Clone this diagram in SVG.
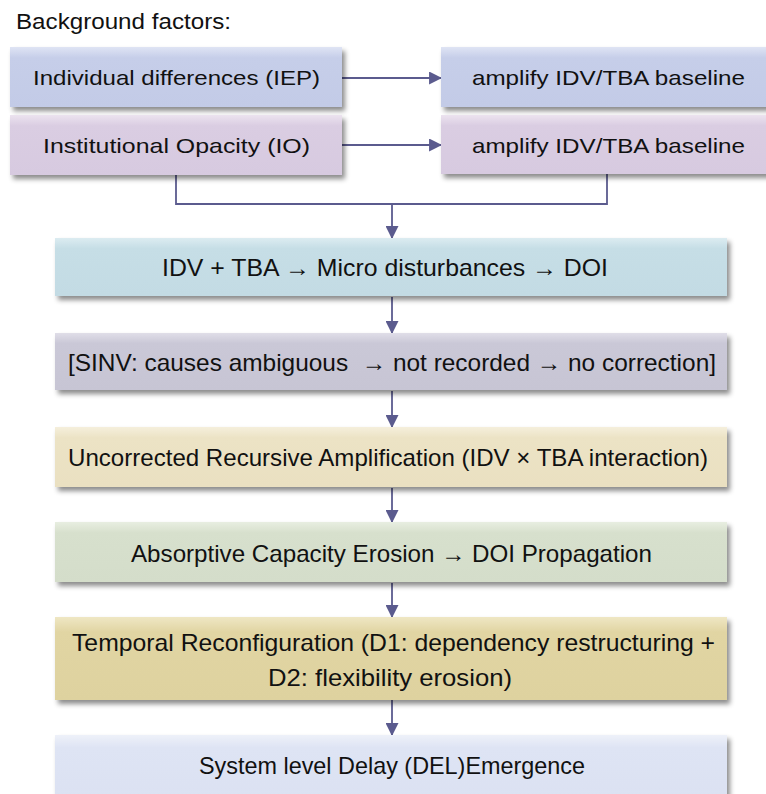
<svg xmlns="http://www.w3.org/2000/svg" width="766" height="794" viewBox="0 0 766 794">
<style>
  text { font-family: "Liberation Sans", Arial, sans-serif; font-size: 24px; fill: #111; }
  .sm { font-size: 21px; }
  .ttl { font-size: 22px; }
  .box { filter: url(#sh); }
  .conn { stroke: #5b5b8e; stroke-width: 1.8; fill: none; }
  .arr { marker-end: url(#ah); }
</style>
<defs>
  <filter id="sh" x="-5%" y="-20%" width="112%" height="150%">
    <feDropShadow dx="3" dy="4" stdDeviation="2.5" flood-color="#000" flood-opacity="0.45"/>
  </filter>
  <marker id="ah" viewBox="0 0 12 12" refX="11" refY="6" markerWidth="13" markerHeight="13" markerUnits="userSpaceOnUse" orient="auto">
    <path d="M0,0 L12,6 L0,12 z" fill="#5b5b8e"/>
  </marker>
  <linearGradient id="gBlue" x1="0" y1="0" x2="0" y2="1"><stop offset="0" stop-color="#dfe4f4"/><stop offset="0.18" stop-color="#c6cee9"/><stop offset="1" stop-color="#c3cbe7"/></linearGradient>
  <linearGradient id="gMauve" x1="0" y1="0" x2="0" y2="1"><stop offset="0" stop-color="#ece3ef"/><stop offset="0.18" stop-color="#dacde2"/><stop offset="1" stop-color="#d7cae0"/></linearGradient>
  <linearGradient id="gTeal" x1="0" y1="0" x2="0" y2="1"><stop offset="0" stop-color="#dcecf1"/><stop offset="0.18" stop-color="#c6dee6"/><stop offset="1" stop-color="#c3dbe4"/></linearGradient>
  <linearGradient id="gGray" x1="0" y1="0" x2="0" y2="1"><stop offset="0" stop-color="#e0dee8"/><stop offset="0.18" stop-color="#cac8d7"/><stop offset="1" stop-color="#c7c5d4"/></linearGradient>
  <linearGradient id="gBeige" x1="0" y1="0" x2="0" y2="1"><stop offset="0" stop-color="#f5efdc"/><stop offset="0.18" stop-color="#ece3c5"/><stop offset="1" stop-color="#eae0c1"/></linearGradient>
  <linearGradient id="gSage" x1="0" y1="0" x2="0" y2="1"><stop offset="0" stop-color="#e8eee1"/><stop offset="0.18" stop-color="#d7e0cd"/><stop offset="1" stop-color="#d4ddca"/></linearGradient>
  <linearGradient id="gKhaki" x1="0" y1="0" x2="0" y2="1"><stop offset="0" stop-color="#efe7c4"/><stop offset="0.18" stop-color="#e1d5a3"/><stop offset="1" stop-color="#ded29f"/></linearGradient>
  <linearGradient id="gLight" x1="0" y1="0" x2="0" y2="1"><stop offset="0" stop-color="#eef1f9"/><stop offset="0.18" stop-color="#dee4f4"/><stop offset="1" stop-color="#dbe1f2"/></linearGradient>
</defs>
<rect width="766" height="794" fill="#ffffff"/>

<text id="title" class="ttl" x="16" y="29" textLength="215" lengthAdjust="spacingAndGlyphs">Background factors:</text>

<g id="connectors">
  <line class="conn arr" x1="342" y1="78" x2="441" y2="78"/>
  <line class="conn arr" x1="342" y1="145" x2="441" y2="145"/>
  <polyline class="conn" points="176,175 176,204 607,204 607,174"/>
  <line class="conn arr" x1="392" y1="204" x2="392" y2="238"/>
  <line class="conn arr" x1="392" y1="297" x2="392" y2="333"/>
  <line class="conn arr" x1="392" y1="391" x2="392" y2="427"/>
  <line class="conn arr" x1="392" y1="488" x2="392" y2="522"/>
  <line class="conn arr" x1="392" y1="583" x2="392" y2="617"/>
  <line class="conn arr" x1="392" y1="700" x2="392" y2="735"/>
</g>

<g id="iep">
  <rect class="box" x="10" y="47" width="332" height="60" fill="url(#gBlue)"/>
  <text class="sm" x="33" y="85" textLength="287" lengthAdjust="spacingAndGlyphs">Individual differences (IEP)</text>
</g>
<g id="io">
  <rect class="box" x="10" y="115" width="332" height="60" fill="url(#gMauve)"/>
  <text class="sm" x="43" y="153" textLength="267" lengthAdjust="spacingAndGlyphs">Institutional Opacity (IO)</text>
</g>
<g id="amp1">
  <rect class="box" x="441" y="47" width="340" height="60" fill="url(#gBlue)"/>
  <text class="sm" x="472" y="85" textLength="273" lengthAdjust="spacingAndGlyphs">amplify IDV/TBA baseline</text>
</g>
<g id="amp2">
  <rect class="box" x="441" y="115" width="340" height="59" fill="url(#gMauve)"/>
  <text class="sm" x="472" y="153" textLength="273" lengthAdjust="spacingAndGlyphs">amplify IDV/TBA baseline</text>
</g>
<g id="micro">
  <rect class="box" x="55" y="238" width="672" height="58" fill="url(#gTeal)"/>
  <text x="162" y="276" textLength="446" lengthAdjust="spacingAndGlyphs">IDV + TBA → Micro disturbances → DOI</text>
</g>
<g id="sinv">
  <rect class="box" x="55" y="333" width="672" height="57" fill="url(#gGray)"/>
  <text x="68" y="371" textLength="648" lengthAdjust="spacingAndGlyphs" xml:space="preserve">[SINV: causes ambiguous  → not recorded → no correction]</text>
</g>
<g id="recursive">
  <rect class="box" x="55" y="427" width="672" height="60" fill="url(#gBeige)"/>
  <text x="68" y="466" textLength="640" lengthAdjust="spacingAndGlyphs">Uncorrected Recursive Amplification (IDV × TBA interaction)</text>
</g>
<g id="absorptive">
  <rect class="box" x="55" y="522" width="672" height="60" fill="url(#gSage)"/>
  <text x="131" y="562" textLength="521" lengthAdjust="spacingAndGlyphs">Absorptive Capacity Erosion → DOI Propagation</text>
</g>
<g id="temporal">
  <rect class="box" x="55" y="617" width="672" height="83" fill="url(#gKhaki)"/>
  <text x="72" y="651" textLength="643" lengthAdjust="spacingAndGlyphs">Temporal Reconfiguration (D1: dependency restructuring +</text>
  <text x="268" y="686" textLength="244" lengthAdjust="spacingAndGlyphs">D2: flexibility erosion)</text>
</g>
<g id="system">
  <rect class="box" x="55" y="735" width="672" height="70" fill="url(#gLight)"/>
  <text x="199" y="774" textLength="386" lengthAdjust="spacingAndGlyphs">System level Delay (DEL)Emergence</text>
</g>
</svg>
